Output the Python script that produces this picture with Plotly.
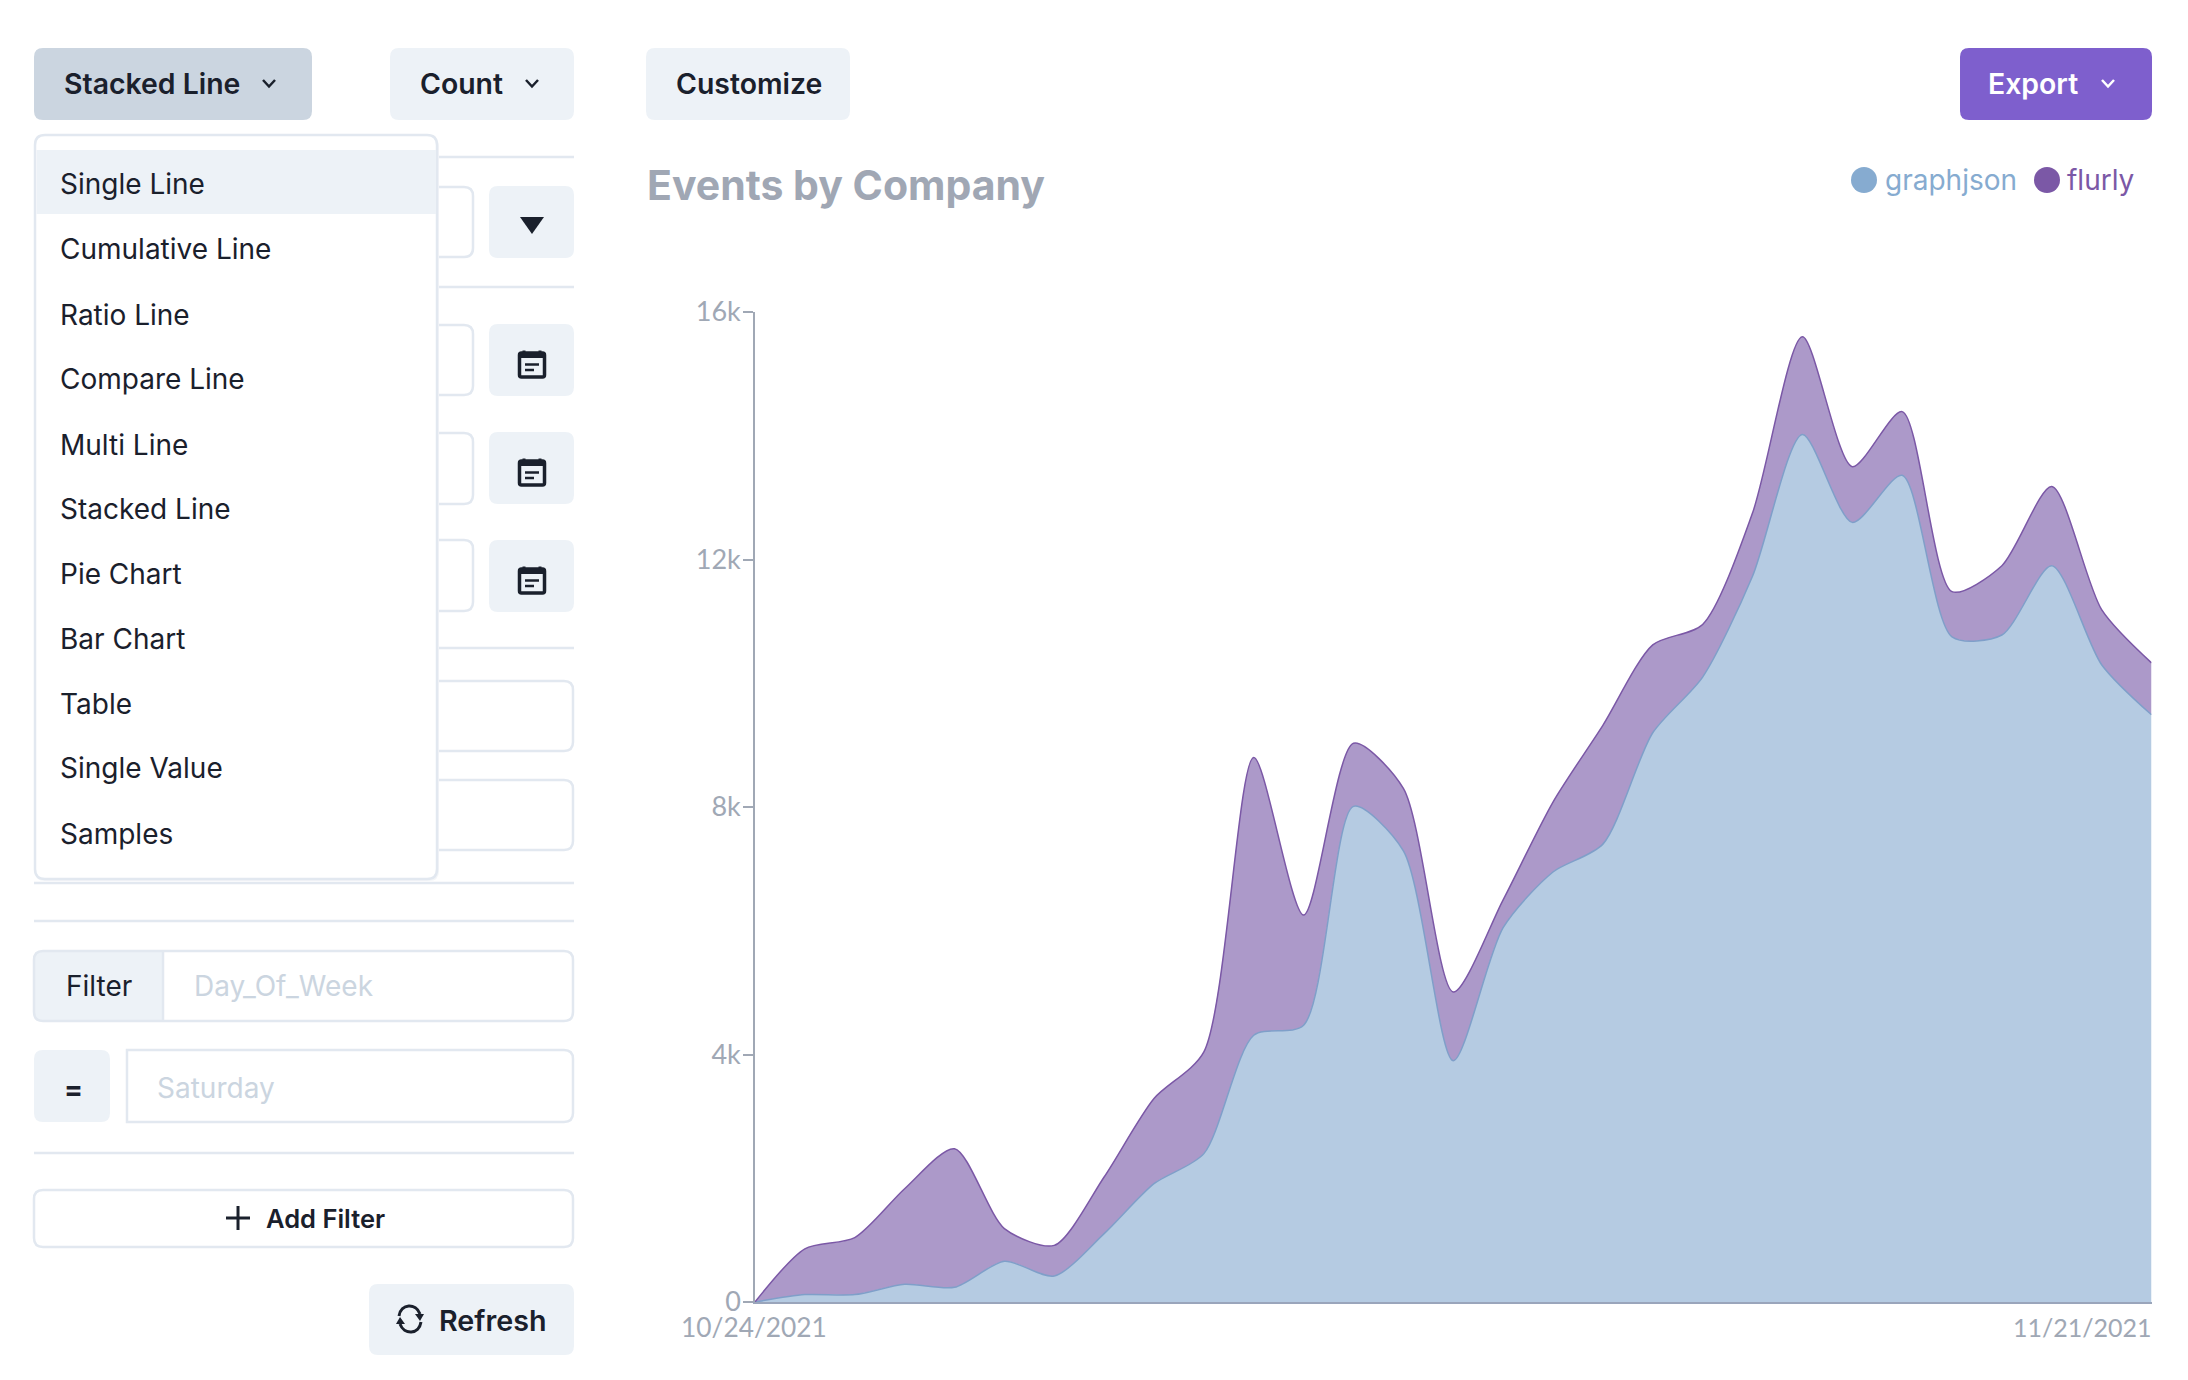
import plotly.graph_objects as go

W = 2188
H = 1380

# daily values
dias = ["2021-10-24", "2021-10-25", "2021-10-26", "2021-10-27", "2021-10-28", "2021-10-29", "2021-10-30",
        "2021-10-31", "2021-11-01", "2021-11-02", "2021-11-03", "2021-11-04", "2021-11-05", "2021-11-06",
        "2021-11-07", "2021-11-08", "2021-11-09", "2021-11-10", "2021-11-11", "2021-11-12", "2021-11-13",
        "2021-11-14", "2021-11-15", "2021-11-16", "2021-11-17", "2021-11-18", "2021-11-19", "2021-11-20",
        "2021-11-21"]
graphjson = [0, 120, 120, 285, 237, 657, 420, 1105, 1913, 2398, 4311, 4473, 8010, 7290, 3900, 6050, 6950,
             7400, 9200, 10100, 11730, 14020, 12600, 13360, 10750, 10780, 11900, 10300, 9490]
flurly = [0, 740, 920, 1545, 2240, 530, 495, 915, 1375, 1645, 4490, 1780, 1020, 1010, 1110, 450, 1130,
          1920, 1420, 850, 1020, 1580, 900, 1030, 730, 1120, 1280, 890, 840]
yticks = [0, 4000, 8000, 12000, 16000]
ylabels = ["0", "4k", "8k", "12k", "16k"]
itens_menu = ["Single Line", "Cumulative Line", "Ratio Line", "Compare Line", "Multi Line", "Stacked Line",
              "Pie Chart", "Bar Chart", "Table", "Single Value", "Samples"]
itens_y = [184, 249, 315, 379, 445, 509, 574, 639, 704, 768, 834]

ESCURO = "#1a202c"
CINZA_BTN = "#edf2f7"
BORDA = "#e2e8f0"
PLACEHOLDER = "#cbd5e0"
EIXO = "#a0a8b5"
AZUL = "#86abd0"
ROXO = "#7b58a6"
FONTE = "Inter"
FONTE_EIXO = "Lato"

shapes = []
annotations = []


def pt(x, y):
    return f"{x / W:.5f},{1 - y / H:.5f}"


def caminho(pontos, fechar=False):
    d = "M" + " L".join(pt(x, y) for x, y in pontos)
    return d + (" Z" if fechar else "")


def add_path(d, fill=None, line=None, lw=0):
    s = dict(type="path", path=d, xref="paper", yref="paper", layer="above", line=dict(width=lw))
    if fill:
        s["fillcolor"] = fill
    if line:
        s["line"]["color"] = line
    shapes.append(s)


def caixa(x0, y0, x1, y1, fill=None, line=None, lw=0, r=9, cantos=(1, 1, 1, 1)):
    # cantos: sup esq, sup dir, inf dir, inf esq
    a, b, c, e = [r * k for k in cantos]
    d = (f"M{pt(x0 + a, y0)} L{pt(x1 - b, y0)} Q{pt(x1, y0)} {pt(x1, y0 + b)} "
         f"L{pt(x1, y1 - c)} Q{pt(x1, y1)} {pt(x1 - c, y1)} "
         f"L{pt(x0 + e, y1)} Q{pt(x0, y1)} {pt(x0, y1 - e)} "
         f"L{pt(x0, y0 + a)} Q{pt(x0, y0)} {pt(x0 + a, y0)} Z")
    add_path(d, fill, line, lw)


def circulo(cx, cy, r, cor):
    shapes.append(dict(type="circle", xref="paper", yref="paper", layer="above", x0=(cx - r) / W, x1=(cx + r) / W,
                       y0=1 - (cy + r) / H, y1=1 - (cy - r) / H, fillcolor=cor, line=dict(width=0)))


def linha(x0, y0, x1, y1, cor=BORDA, lw=2.5):
    add_path(caminho([(x0, y0), (x1, y1)]), None, cor, lw)


def texto(x, y, t, size=28, cor=ESCURO, peso=400, anchor="left", fonte=FONTE):
    annotations.append(dict(x=x / W, y=1 - y / H, xref="paper", yref="paper", text=t, showarrow=False,
                            xanchor=anchor, yanchor="middle", borderpad=0, borderwidth=0,
                            font=dict(family=fonte, size=size, color=cor, weight=peso)))


def chevron(cx, cy, cor=ESCURO):
    add_path(caminho([(cx - 6, cy - 3), (cx, cy + 3.5), (cx + 6, cy - 3)]), None, cor, 2.5)


def calendario(cy):
    cx = 532
    caixa(cx - 12.5, cy - 11, cx + 12.5, cy + 13, None, ESCURO, 3.5, r=2)
    add_path(caminho([(cx - 12.5, cy - 11), (cx + 12.5, cy - 11), (cx + 12.5, cy - 6), (cx - 12.5, cy - 6)], True), ESCURO)
    linha(cx - 8, cy - 13.5, cx - 8, cy - 10, ESCURO, 3)
    linha(cx + 8, cy - 13.5, cx + 8, cy - 10, ESCURO, 3)
    linha(cx - 7, cy + 0.5, cx + 7, cy + 0.5, ESCURO, 2.5)
    linha(cx - 7, cy + 6, cx + 2, cy + 6, ESCURO, 2.5)


# barra de cima
caixa(34, 48, 312, 120, "#cbd5e0")
caixa(390, 48, 574, 120, CINZA_BTN)
caixa(646, 48, 850, 120, CINZA_BTN)
caixa(1960, 48, 2152, 120, "#7e5fcd")
texto(64, 84, "Stacked Line", 28.4, ESCURO, 600)
chevron(269, 83)
texto(420, 84, "Count", 28.4, ESCURO, 600)
chevron(532, 83)
texto(676, 84, "Customize", 28.4, ESCURO, 600)
texto(1988, 84, "Export", 28.4, "#ffffff", 600)
chevron(2108, 83, "#ffffff")

# linhas e campos atras do menu
for y in [157, 287, 648, 883, 921, 1153]:
    linha(34, y, 574, y)
caixa(300, 187, 473, 257, None, BORDA, 2.5)
caixa(300, 325, 473, 395, None, BORDA, 2.5)
caixa(300, 433, 473, 504, None, BORDA, 2.5)
caixa(300, 540, 473, 611, None, BORDA, 2.5)
caixa(300, 681, 573, 751, None, BORDA, 2.5)
caixa(300, 780, 573, 850, None, BORDA, 2.5)
for y0, y1 in [(186, 258), (324, 396), (432, 504), (540, 612)]:
    caixa(489, y0, 574, y1, CINZA_BTN)
add_path(caminho([(520, 217), (544, 217), (532, 234)], True), ESCURO)
calendario(364)
calendario(472)
calendario(580)

# menu aberto
caixa(35, 137, 439, 881, "#f3f5f8", None, 0, r=10)
caixa(35, 135, 437, 879, "#ffffff", BORDA, 2.5, r=10)
add_path(caminho([(36.5, 150), (436, 150), (436, 214), (36.5, 214)], True), CINZA_BTN)
for nome, y in zip(itens_menu, itens_y):
    texto(60, y, nome, 28)

# filtro
caixa(34, 951, 163, 1021, CINZA_BTN, None, 0, cantos=(1, 0, 0, 1))
caixa(34, 951, 573, 1021, None, BORDA, 2.5)
linha(163, 951, 163, 1021)
texto(66, 986, "Filter", 28)
texto(194, 986, "Day_Of_Week", 28, PLACEHOLDER)
caixa(34, 1050, 110, 1122, CINZA_BTN)
texto(73, 1089, "=", 28, ESCURO, 700, "center")
caixa(127, 1050, 573, 1122, None, BORDA, 2.5, cantos=(0, 1, 1, 0))
texto(157, 1088, "Saturday", 28, PLACEHOLDER)
caixa(34, 1190, 573, 1247, None, BORDA, 2.5)
linha(226, 1218, 250, 1218, ESCURO, 3)
linha(238, 1206, 238, 1230, ESCURO, 3)
texto(266, 1218, "Add Filter", 25.5, ESCURO, 600)
caixa(369, 1284, 574, 1355, CINZA_BTN)
texto(439, 1320, "Refresh", 28.7, ESCURO, 600)
# icone de refresh
add_path(f"M{pt(399, 1316)} C{pt(401, 1303)} {pt(416, 1303)} {pt(420, 1314)}", None, ESCURO, 3)
add_path(f"M{pt(421, 1322)} C{pt(419, 1335)} {pt(404, 1335)} {pt(400, 1324)}", None, ESCURO, 3)
add_path(caminho([(415, 1314), (424, 1314), (420, 1321)], True), ESCURO)
add_path(caminho([(396, 1324), (405, 1324), (400, 1317)], True), ESCURO)

# titulo e legenda
texto(647, 185, "Events by Company", 41, "#a0a7b4", 700)
circulo(1864, 180, 13, AZUL)
texto(1885, 180, "graphjson", 28, AZUL)
circulo(2047, 180, 13, ROXO)
texto(2067, 180, "flurly", 28, ROXO)

# datas do eixo x
texto(754, 1327, "10/24/2021", 26.3, EIXO, 400, "center", FONTE_EIXO)
texto(2152, 1327, "11/21/2021", 25, EIXO, 400, "right", FONTE_EIXO)

fig = go.Figure()
fig.add_trace(go.Scatter(x=dias, y=graphjson, name="graphjson", mode="lines", stackgroup="um",
                         line=dict(color="#7f9fc9", width=1.5, shape="spline", smoothing=0.75),
                         fillcolor="#b5cbe2"))
fig.add_trace(go.Scatter(x=dias, y=flurly, name="flurly", mode="lines", stackgroup="um",
                         line=dict(color=ROXO, width=1.5, shape="spline", smoothing=0.75),
                         fillcolor="#ac99c9"))

fig.update_layout(
    width=W, height=H, autosize=False,
    margin=dict(l=0, r=0, t=0, b=0),
    paper_bgcolor="white", plot_bgcolor="white",
    showlegend=False,
    shapes=shapes, annotations=annotations,
    xaxis=dict(domain=[755 / W, 2151.5 / W], range=[dias[0], dias[-1]], showgrid=False, zeroline=False,
               automargin=False, showticklabels=False, ticks="", showline=True, linecolor="#9aa5bb", linewidth=2),
    yaxis=dict(domain=[1 - 1302 / H, 1 - 312 / H], range=[0, 16000], showgrid=False, zeroline=False,
               automargin=False, tickvals=yticks, ticktext=ylabels, ticks="outside", ticklen=10, tickwidth=1.5,
               ticklabelstandoff=-3, tickcolor=EIXO, showline=True, linecolor=EIXO, linewidth=1.5,
               tickfont=dict(family=FONTE_EIXO, size=27, color=EIXO)),
)

fig.write_html("out.html", post_script="document.body.style.margin='0';document.body.style.overflow='hidden';",
               config=dict(displayModeBar=False))
